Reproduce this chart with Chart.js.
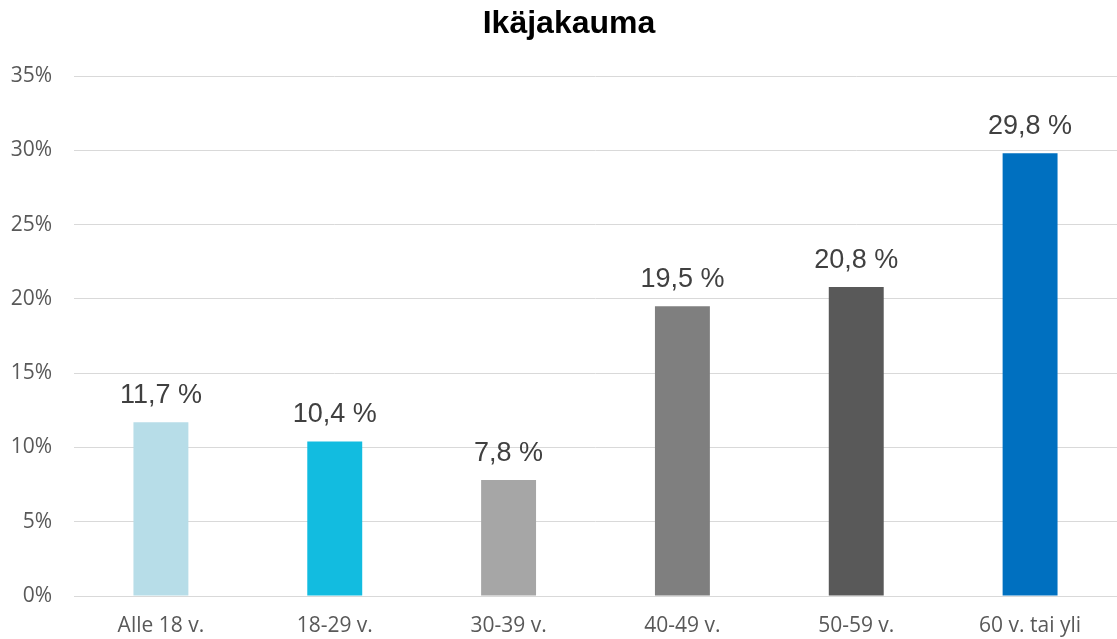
<!DOCTYPE html>
<html>
<head>
<meta charset="utf-8">
<script src="https://cdn.jsdelivr.net/npm/chart.js@4/dist/chart.umd.min.js"></script>
<style>
  html, body { margin: 0; padding: 0; background: #fff; }
  #wrap { width: 1117px; height: 639px; position: relative; }
</style>
</head>
<body>
<div id="wrap"><canvas id="c"></canvas></div>
<script>
// Age distribution (share of respondents, %)
const chartTitle = 'Ikäjakauma';
const categories = ['Alle 18 v.', '18-29 v.', '30-39 v.', '40-49 v.', '50-59 v.', '60 v. tai yli'];
const shares = [11.7, 10.4, 7.8, 19.5, 20.8, 29.8];
const barColors = ['#B7DDE8', '#12BCE0', '#A6A6A6', '#7F7F7F', '#595959', '#0070C0'];
const yTicks = [0, 5, 10, 15, 20, 25, 30, 35];

const fmt = v => v.toFixed(1).replace('.', ',') + ' %';

// Heading drawn slightly right of the canvas centre
const heading = {
  id: 'heading',
  afterDraw(chart) {
    const ctx = chart.ctx;
    ctx.save();
    ctx.font = 'bold 32px "Liberation Sans", Arial, sans-serif';
    ctx.fillStyle = '#000';
    ctx.textAlign = 'center';
    ctx.textBaseline = 'alphabetic';
    ctx.fillText(chartTitle, 569, 33);
    ctx.restore();
  }
};

// Value labels above each bar
const valueLabels = {
  id: 'valueLabels',
  afterDatasetsDraw(chart) {
    const ctx = chart.ctx;
    const meta = chart.getDatasetMeta(0);
    ctx.save();
    ctx.font = '27px "Liberation Sans", Arial, sans-serif';
    ctx.fillStyle = '#404040';
    ctx.textAlign = 'center';
    ctx.textBaseline = 'alphabetic';
    meta.data.forEach((bar, i) => {
      ctx.fillText(fmt(shares[i]), bar.x, bar.y - 19);
    });
    ctx.restore();
  }
};

new Chart(document.getElementById('c'), {
  type: 'bar',
  data: {
    labels: categories,
    datasets: [{
      data: shares,
      backgroundColor: barColors,
      borderWidth: 0,
      barPercentage: 0.316,
      categoryPercentage: 1
    }]
  },
  options: {
    responsive: true,
    maintainAspectRatio: false,
    animation: false,
    layout: { padding: { left: 0, right: 0, top: 76, bottom: 0 } },
    plugins: {
      legend: { display: false },
      tooltip: { enabled: false },
      title: { display: false }
    },
    scales: {
      x: {
        grid: { display: false, drawTicks: false },
        border: { color: '#D9D9D9', width: 1 },
        ticks: {
          color: '#595959',
          font: { family: '"Open Sans", sans-serif', size: 21 },
          padding: 17,
          maxRotation: 0
        },
        afterFit(scale) { scale.height = 43; }
      },
      y: {
        min: 0,
        max: 35,
        afterBuildTicks(scale) { scale.ticks = yTicks.map(v => ({ value: v })); },
        grid: { color: '#D9D9D9', lineWidth: 1, drawTicks: false },
        border: { display: false },
        ticks: {
          color: '#595959',
          font: { family: '"Open Sans", sans-serif', size: 21 },
          padding: 22,
          callback: v => v + '%'
        },
        afterFit(scale) { scale.width = 74; }
      }
    }
  },
  plugins: [valueLabels, heading]
});
</script>
</body>
</html>
